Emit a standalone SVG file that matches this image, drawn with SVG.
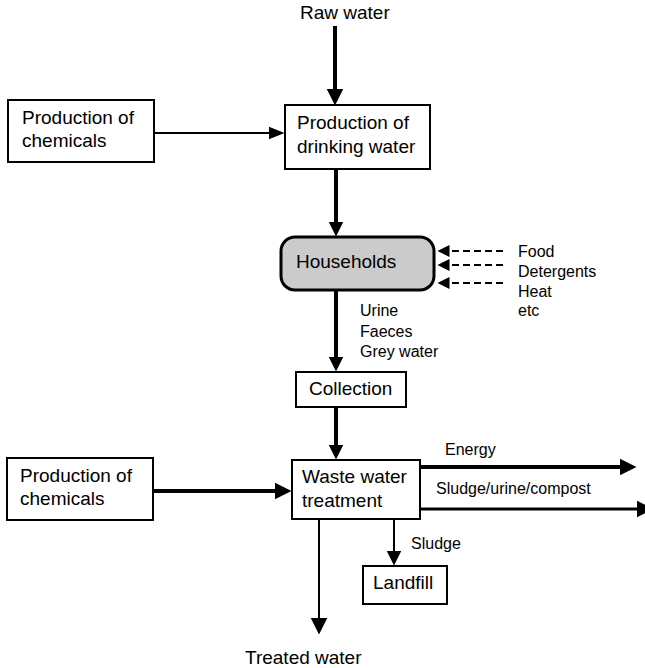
<svg xmlns="http://www.w3.org/2000/svg" width="645" height="668" viewBox="0 0 645 668">
<defs>
<style>
.box{fill:#fff;stroke:#000;stroke-width:2}
.hh{fill:#cbcbcb;stroke:#000;stroke-width:3}
.t{font-family:"Liberation Sans",Arial,sans-serif;font-size:19px;fill:#000}
.s{font-family:"Liberation Sans",Arial,sans-serif;font-size:16px;fill:#000}
.thick{stroke:#000;stroke-width:4;fill:none}
.mid{stroke:#000;stroke-width:3;fill:none}
.thin{stroke:#000;stroke-width:2;fill:none}
.dash{stroke:#000;stroke-width:2.2;fill:none;stroke-dasharray:7 4}
</style>
<marker id="aB" markerUnits="userSpaceOnUse" markerWidth="18" markerHeight="18" viewBox="0 -9 18 18" refX="0.5" refY="0" orient="auto"><path d="M0,-8.5 L17,0 L0,8.5z" fill="#000"/></marker>
<marker id="aM" markerUnits="userSpaceOnUse" markerWidth="16" markerHeight="16" viewBox="0 -8 16 16" refX="0.5" refY="0" orient="auto"><path d="M0,-7.5 L15,0 L0,7.5z" fill="#000"/></marker>
<marker id="aS" markerUnits="userSpaceOnUse" markerWidth="17" markerHeight="14" viewBox="0 -7 17 14" refX="0.5" refY="0" orient="auto"><path d="M0,-6.5 L16,0 L0,6.5z" fill="#000"/></marker>
<marker id="aD" markerUnits="userSpaceOnUse" markerWidth="13" markerHeight="13" viewBox="0 -6.5 13 13" refX="0.5" refY="0" orient="auto"><path d="M0,-6 L12,0 L0,6z" fill="#000"/></marker>
</defs>

<g id="connectors">
<line class="thick" x1="335" y1="26" x2="335" y2="89" marker-end="url(#aB)"/>
<line class="thin" x1="154" y1="133" x2="269" y2="133" marker-end="url(#aS)"/>
<line class="thick" x1="336" y1="169" x2="336" y2="222" marker-end="url(#aM)"/>
<line class="dash" x1="503" y1="251" x2="449" y2="251" marker-end="url(#aD)"/>
<line class="dash" x1="503" y1="265" x2="449" y2="265" marker-end="url(#aD)"/>
<line class="dash" x1="503" y1="283" x2="449" y2="283" marker-end="url(#aD)"/>
<line class="thick" x1="336" y1="290" x2="336" y2="357" marker-end="url(#aM)"/>
<line class="thick" x1="336" y1="407" x2="336" y2="445" marker-end="url(#aM)"/>
<line class="thick" x1="153" y1="491" x2="275" y2="491" marker-end="url(#aB)"/>
<line class="thick" x1="420" y1="467" x2="620" y2="467" marker-end="url(#aB)"/>
<line class="mid" x1="420" y1="509" x2="637" y2="509" marker-end="url(#aB)"/>
<line class="thin" x1="394" y1="519" x2="394" y2="551" marker-end="url(#aM)"/>
<line class="thin" x1="319" y1="519" x2="319" y2="618" marker-end="url(#aB)"/>
</g>

<g id="raw-water"><text class="t" x="300" y="19">Raw water</text></g>

<g id="chemicals-1">
<rect class="box" x="8" y="100" width="146" height="62"/>
<text class="t" x="22" y="124">Production of</text>
<text class="t" x="22" y="147">chemicals</text>
</g>

<g id="drinking-water">
<rect class="box" x="285" y="105" width="145" height="64"/>
<text class="t" x="297" y="129">Production of</text>
<text class="t" x="297" y="153">drinking water</text>
</g>

<g id="households">
<rect class="hh" x="281" y="237" width="153" height="53" rx="14" ry="14"/>
<text class="t" x="296" y="268">Households</text>
</g>

<g id="inputs">
<text class="s" x="518" y="257">Food</text>
<text class="s" x="518" y="277">Detergents</text>
<text class="s" x="518" y="297">Heat</text>
<text class="s" x="518" y="316">etc</text>
</g>

<g id="flows">
<text class="s" x="360" y="316">Urine</text>
<text class="s" x="360" y="337">Faeces</text>
<text class="s" x="360" y="357">Grey water</text>
</g>

<g id="collection">
<rect class="box" x="296" y="372" width="110" height="35"/>
<text class="t" x="309" y="395">Collection</text>
</g>

<g id="chemicals-2">
<rect class="box" x="7" y="458" width="146" height="62"/>
<text class="t" x="20" y="482">Production of</text>
<text class="t" x="20" y="505">chemicals</text>
</g>

<g id="waste-water-treatment">
<rect class="box" x="292" y="460" width="128" height="59"/>
<text class="t" x="302" y="483">Waste water</text>
<text class="t" x="302" y="507">treatment</text>
</g>

<g id="outputs">
<text class="s" x="445" y="455">Energy</text>
<text class="s" x="436" y="494">Sludge/urine/compost</text>
<text class="s" x="411" y="549">Sludge</text>
</g>

<g id="landfill">
<rect class="box" x="363" y="566" width="84" height="38"/>
<text class="t" x="373" y="589">Landfill</text>
</g>

<g id="treated-water"><text class="t" x="245" y="664">Treated water</text></g>
</svg>
